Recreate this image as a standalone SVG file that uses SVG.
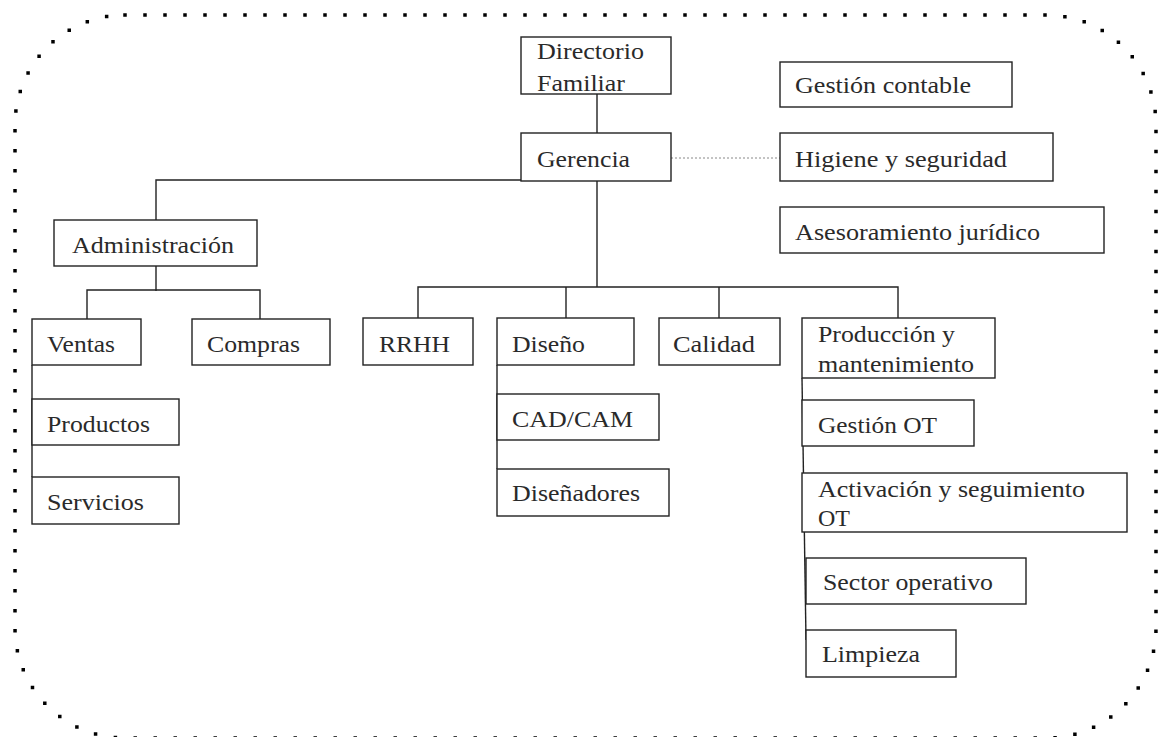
<svg xmlns="http://www.w3.org/2000/svg" width="1168" height="737" viewBox="0 0 1168 737">
<style>
.box{fill:#fff;stroke:#222;stroke-width:1.4}
.lbl{font-family:'Liberation Serif','Times New Roman',Times,serif;font-size:23px;fill:#2a2a2a}
.conn{fill:none;stroke:#222;stroke-width:1.4}
.dot{fill:none;stroke:#888;stroke-width:1;stroke-dasharray:2 2}
.frame{fill:none;stroke:#000;stroke-width:3.5;stroke-dasharray:0 20;stroke-linecap:square}
</style>
<rect width="1168" height="737" fill="#fff"/>
<rect id="frame" class="frame" x="15" y="15" width="1141" height="723" rx="110" ry="110"/>
<g id="connectors">
<line class="conn" x1="597" y1="94" x2="597" y2="133"/>
<line class="dot" x1="671" y1="158" x2="780" y2="158"/>
<polyline class="conn" points="521,180 156,180 156,220"/>
<line class="conn" x1="156" y1="266" x2="156" y2="291"/>
<polyline class="conn" points="87,319 87,290 260,290 260,319"/>
<line class="conn" x1="32" y1="365" x2="32" y2="477"/>
<line class="conn" x1="597" y1="181" x2="597" y2="287"/>
<polyline class="conn" points="418,318 418,287 898,287 898,318"/>
<line class="conn" x1="566" y1="287" x2="566" y2="318"/>
<line class="conn" x1="719" y1="287" x2="719" y2="318"/>
<line class="conn" x1="497" y1="365" x2="497" y2="469"/>
<line class="conn" x1="802" y1="378" x2="806" y2="640"/>
</g>
<g id="directorio"><rect class="box" x="521" y="37" width="150" height="57"/><text class="lbl" x="537" y="59" textLength="107" lengthAdjust="spacingAndGlyphs">Directorio</text><text class="lbl" x="537" y="91" textLength="88" lengthAdjust="spacingAndGlyphs">Familiar</text></g>
<g id="gerencia"><rect class="box" x="521" y="133" width="150" height="48"/><text class="lbl" x="537" y="167" textLength="93" lengthAdjust="spacingAndGlyphs">Gerencia</text></g>
<g id="gestion-contable"><rect class="box" x="780" y="62" width="232" height="45"/><text class="lbl" x="795" y="93" textLength="176" lengthAdjust="spacingAndGlyphs">Gestión contable</text></g>
<g id="higiene"><rect class="box" x="780" y="133" width="273" height="48"/><text class="lbl" x="795" y="167" textLength="212" lengthAdjust="spacingAndGlyphs">Higiene y seguridad</text></g>
<g id="asesoramiento"><rect class="box" x="780" y="207" width="324" height="46"/><text class="lbl" x="795" y="240" textLength="245" lengthAdjust="spacingAndGlyphs">Asesoramiento jurídico</text></g>
<g id="administracion"><rect class="box" x="54" y="220" width="203" height="46"/><text class="lbl" x="72" y="253" textLength="162" lengthAdjust="spacingAndGlyphs">Administración</text></g>
<g id="ventas"><rect class="box" x="32" y="319" width="109" height="46"/><text class="lbl" x="47" y="352" textLength="68" lengthAdjust="spacingAndGlyphs">Ventas</text></g>
<g id="compras"><rect class="box" x="192" y="319" width="138" height="46"/><text class="lbl" x="207" y="352" textLength="93" lengthAdjust="spacingAndGlyphs">Compras</text></g>
<g id="productos"><rect class="box" x="32" y="399" width="147" height="46"/><text class="lbl" x="47" y="432" textLength="103" lengthAdjust="spacingAndGlyphs">Productos</text></g>
<g id="servicios"><rect class="box" x="32" y="477" width="147" height="47"/><text class="lbl" x="47" y="510" textLength="97" lengthAdjust="spacingAndGlyphs">Servicios</text></g>
<g id="rrhh"><rect class="box" x="363" y="318" width="110" height="47"/><text class="lbl" x="379" y="352" textLength="71" lengthAdjust="spacingAndGlyphs">RRHH</text></g>
<g id="diseno"><rect class="box" x="497" y="318" width="137" height="47"/><text class="lbl" x="512" y="352" textLength="73" lengthAdjust="spacingAndGlyphs">Diseño</text></g>
<g id="calidad"><rect class="box" x="659" y="318" width="121" height="47"/><text class="lbl" x="673" y="352" textLength="82" lengthAdjust="spacingAndGlyphs">Calidad</text></g>
<g id="cadcam"><rect class="box" x="497" y="394" width="162" height="46"/><text class="lbl" x="512" y="427" textLength="121" lengthAdjust="spacingAndGlyphs">CAD/CAM</text></g>
<g id="disenadores"><rect class="box" x="497" y="469" width="172" height="47"/><text class="lbl" x="512" y="501" textLength="128" lengthAdjust="spacingAndGlyphs">Diseñadores</text></g>
<g id="produccion"><rect class="box" x="802" y="318" width="193" height="60"/><text class="lbl" x="818" y="342" textLength="137" lengthAdjust="spacingAndGlyphs">Producción y</text><text class="lbl" x="818" y="372" textLength="156" lengthAdjust="spacingAndGlyphs">mantenimiento</text></g>
<g id="gestion-ot"><rect class="box" x="802" y="400" width="172" height="46"/><text class="lbl" x="818" y="433" textLength="119" lengthAdjust="spacingAndGlyphs">Gestión OT</text></g>
<g id="activacion"><rect class="box" x="802" y="473" width="325" height="59"/><text class="lbl" x="818" y="497" textLength="267" lengthAdjust="spacingAndGlyphs">Activación y seguimiento</text><text class="lbl" x="818" y="526" textLength="32" lengthAdjust="spacingAndGlyphs">OT</text></g>
<g id="sector-operativo"><rect class="box" x="806" y="558" width="220" height="46"/><text class="lbl" x="823" y="590" textLength="170" lengthAdjust="spacingAndGlyphs">Sector operativo</text></g>
<g id="limpieza"><rect class="box" x="806" y="630" width="150" height="47"/><text class="lbl" x="822" y="662" textLength="98" lengthAdjust="spacingAndGlyphs">Limpieza</text></g>
</svg>
